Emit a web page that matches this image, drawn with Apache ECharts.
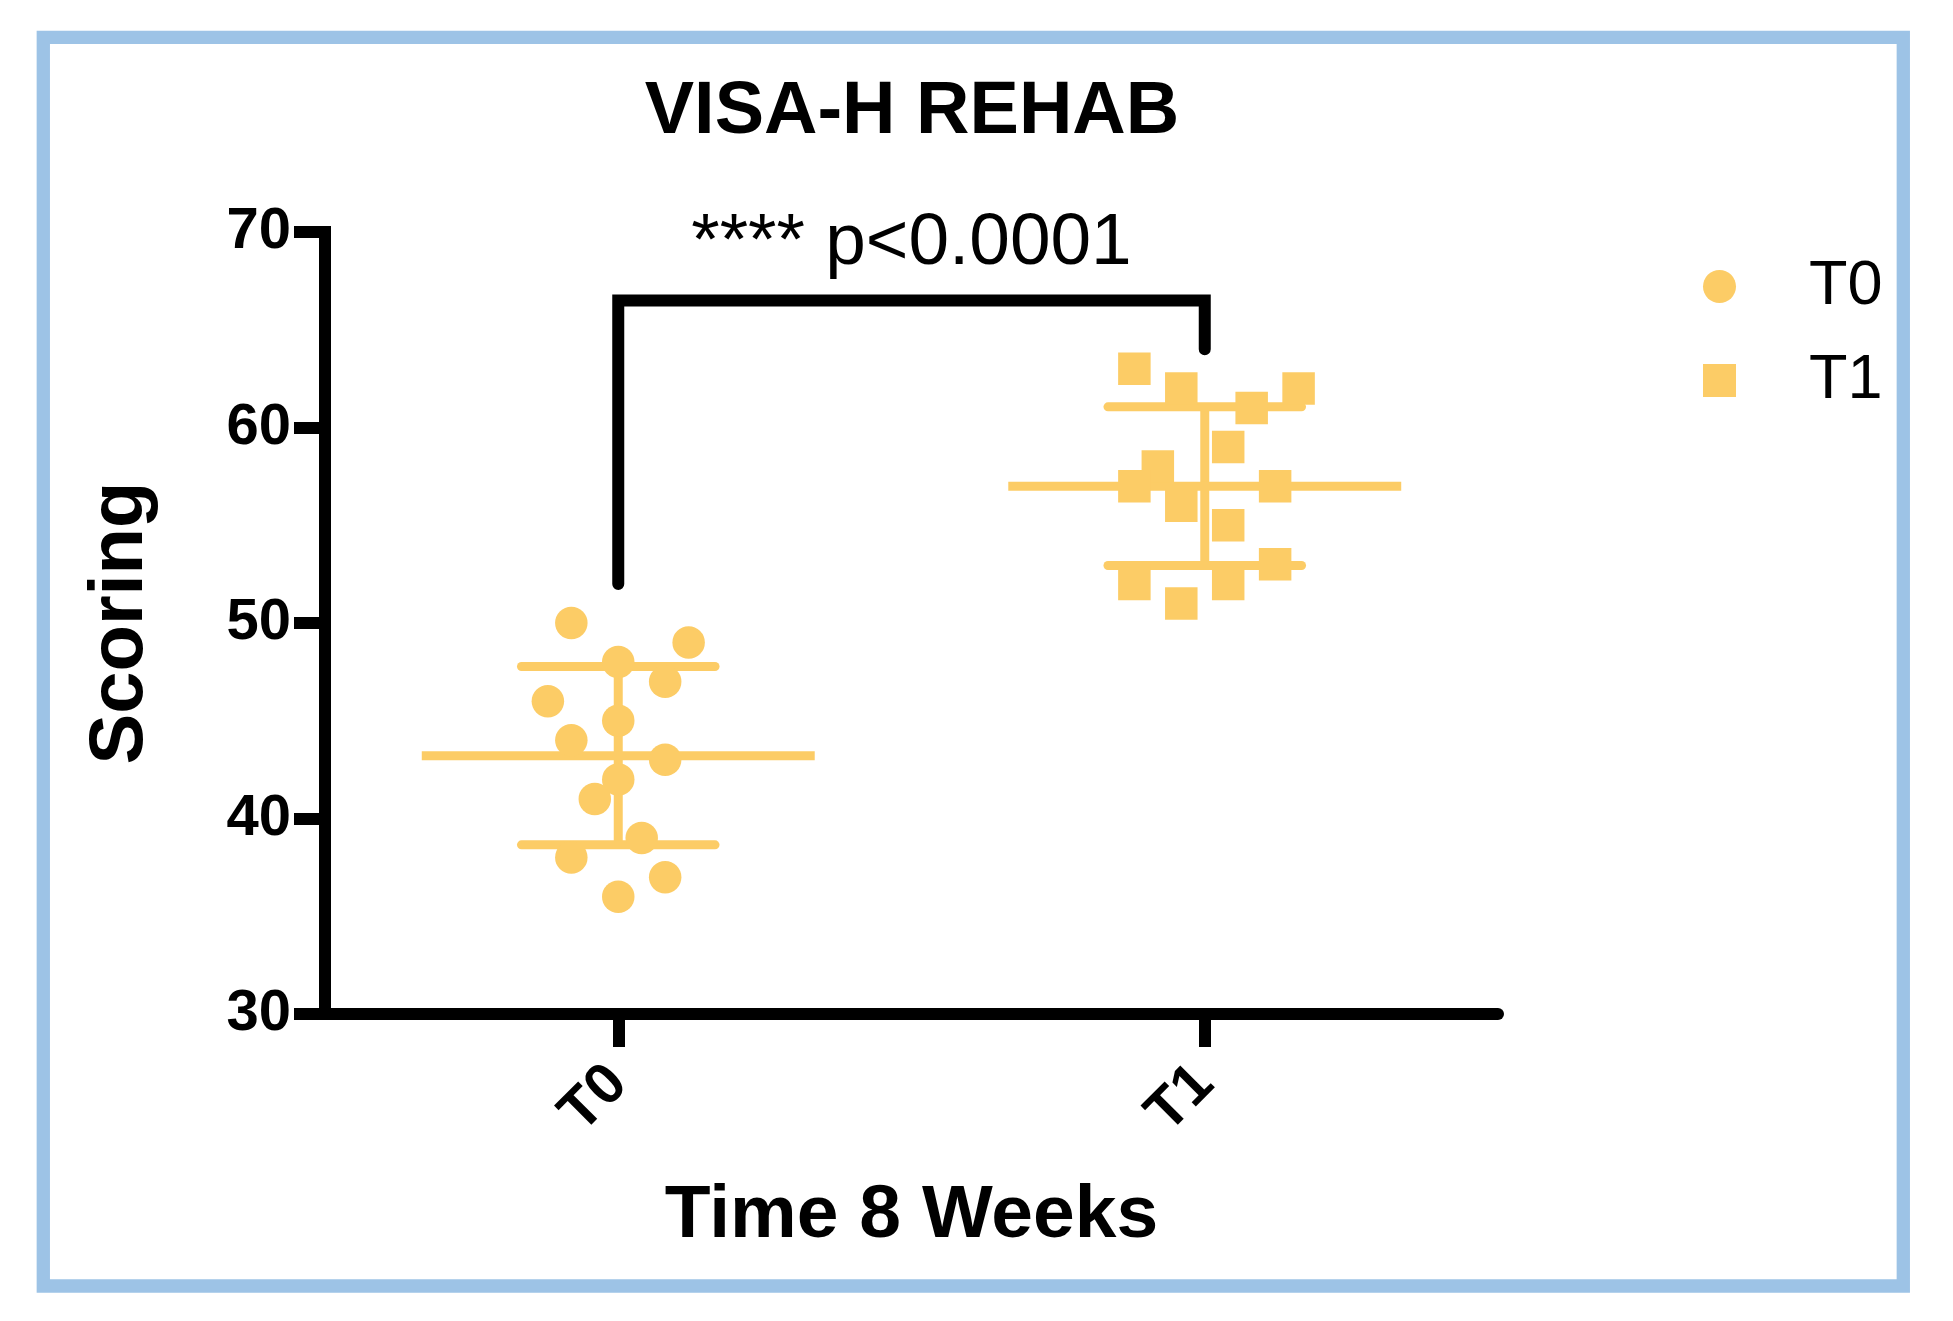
<!DOCTYPE html>
<html>
<head>
<meta charset="utf-8">
<title>VISA-H REHAB</title>
<script src="https://cdn.jsdelivr.net/npm/echarts@6/dist/echarts.min.js"></script>
<style>
  html, body { margin: 0; padding: 0; background: #ffffff; }
  #chart { width: 1953px; height: 1321px; }
</style>
</head>
<body>
<div id="chart"></div>
<script>
// ---------- data ----------
const categories = ['T0', 'T1'];
const t0Values = [50, 49, 48, 47, 46, 45, 44, 43, 42, 41, 39, 38, 37, 36];
const t0Jitter = [-2, 3, 0, 2, -3, 0, -2, 2, 0, -1, 1, -2, 2, 0];
const t1Values = [63, 62, 61, 62, 59, 58, 57, 57, 56, 55, 53, 52, 52, 51];
const t1Jitter = [-3, -1, 2, 4, 1, -2, -3, 3, -1, 1, 3, -3, 1, -1];
const yTicks = [30, 40, 50, 60, 70];
const bracketValues = [52, 66.5, 64];   // left leg end, top, right leg end
const pLabel = '**** p<0.0001';
const titleText = 'VISA-H REHAB';
const xName = 'Time 8 Weeks';
const yName = 'Scoring';

// ---------- helpers ----------
const FONT = '"Liberation Sans", Arial, Helvetica, sans-serif';
const COLOR = '#FCCC66';
const JIT = 0.04;

function mean(a) { return a.reduce((s, v) => s + v, 0) / a.length; }
function sd(a) {
  const m = mean(a);
  return Math.sqrt(a.reduce((s, v) => s + (v - m) * (v - m), 0) / (a.length - 1));
}
const stats = [
  [0, mean(t0Values), sd(t0Values)],
  [1, mean(t1Values), sd(t1Values)]
];

const chart = echarts.init(document.getElementById('chart'), null, { renderer: 'canvas' });

const option = {
  animation: false,
  backgroundColor: '#ffffff',
  title: {
    text: titleText,
    left: 912,
    top: 76,
    textAlign: 'center',
    padding: 0,
    textStyle: { fontFamily: FONT, fontWeight: 'bold', fontSize: 74, color: '#000' }
  },
  legend: {
    orient: 'vertical',
    left: 1703,
    top: 255,
    padding: 0,
    itemWidth: 33,
    itemHeight: 33,
    itemGap: 31,
    selectedMode: false,
    data: [
      { name: 'T0', icon: 'circle' },
      { name: 'T1', icon: 'rect' }
    ],
    formatter: '{p|{name}}',
    textStyle: {
      fontFamily: FONT, fontSize: 63, color: '#000',
      rich: { p: { fontFamily: FONT, fontSize: 63, color: '#000', padding: [0, 0, 0, 68] } }
    }
  },
  grid: { left: 325, right: 455, top: 232, bottom: 307, containLabel: false },
  xAxis: [
    {
      type: 'category',
      data: categories,
      boundaryGap: true,
      name: xName,
      nameLocation: 'middle',
      nameGap: 165,
      nameTextStyle: { fontFamily: FONT, fontWeight: 'bold', fontSize: 75, color: '#000' },
      axisLine: { show: true, onZero: false, lineStyle: { color: '#000', width: 12 } },
      axisTick: { show: true, alignWithLabel: true, length: 33, lineStyle: { color: '#000', width: 12 } },
      axisLabel: {
        rotate: 45, margin: 61, interval: 0,
        fontFamily: FONT, fontWeight: 'bold', fontSize: 58, color: '#000'
      },
      splitLine: { show: false }
    },
    { type: 'value', min: -0.5, max: 1.5, show: false, axisLine: { onZero: false } }
  ],
  yAxis: {
    type: 'value',
    min: yTicks[0],
    max: yTicks[yTicks.length - 1],
    interval: yTicks[1] - yTicks[0],
    name: yName,
    nameLocation: 'middle',
    nameRotate: 90,
    nameGap: 166,
    nameTextStyle: { fontFamily: FONT, fontWeight: 'bold', fontSize: 76, color: '#000' },
    axisLine: { show: true, onZero: false, lineStyle: { color: '#000', width: 12, cap: 'square' } },
    axisTick: { show: true, length: 31, lineStyle: { color: '#000', width: 12 } },
    axisLabel: { margin: 34, fontFamily: FONT, fontWeight: 'bold', fontSize: 58, color: '#000' },
    splitLine: { show: false }
  },
  series: [
    {
      name: 'SD',
      type: 'custom',
      xAxisIndex: 1,
      yAxisIndex: 0,
      silent: true,
      z: 2,
      data: stats,
      encode: { x: 0, y: [1, 2] },
      renderItem: function (params, api) {
        const c = api.value(0), m = api.value(1), s = api.value(2);
        const ml = api.coord([c - 0.335, m]), mr = api.coord([c + 0.335, m]);
        const tl = api.coord([c - 0.165, m + s]), tr = api.coord([c + 0.165, m + s]);
        const bl = api.coord([c - 0.165, m - s]), br = api.coord([c + 0.165, m - s]);
        const vt = api.coord([c, m + s]), vb = api.coord([c, m - s]);
        const base = { stroke: COLOR, lineWidth: 9, fill: 'none' };
        return {
          type: 'group',
          children: [
            { type: 'line', shape: { x1: vt[0], y1: vt[1], x2: vb[0], y2: vb[1] }, style: Object.assign({ lineCap: 'butt' }, base) },
            { type: 'line', shape: { x1: ml[0], y1: ml[1], x2: mr[0], y2: mr[1] }, style: Object.assign({ lineCap: 'butt' }, base) },
            { type: 'line', shape: { x1: tl[0], y1: tl[1], x2: tr[0], y2: tr[1] }, style: Object.assign({ lineCap: 'round' }, base) },
            { type: 'line', shape: { x1: bl[0], y1: bl[1], x2: br[0], y2: br[1] }, style: Object.assign({ lineCap: 'round' }, base) }
          ]
        };
      }
    },
    {
      name: 'T0',
      type: 'scatter',
      xAxisIndex: 1,
      yAxisIndex: 0,
      symbol: 'circle',
      symbolSize: 32.5,
      z: 3,
      itemStyle: { color: COLOR, opacity: 1 },
      emphasis: { disabled: true },
      data: t0Values.map((v, i) => [0 + t0Jitter[i] * JIT, v])
    },
    {
      name: 'T1',
      type: 'scatter',
      xAxisIndex: 1,
      yAxisIndex: 0,
      symbol: 'rect',
      symbolSize: 32.5,
      z: 3,
      itemStyle: { color: COLOR, opacity: 1 },
      emphasis: { disabled: true },
      data: t1Values.map((v, i) => [1 + t1Jitter[i] * JIT, v])
    },
    {
      name: 'significance',
      type: 'custom',
      xAxisIndex: 1,
      yAxisIndex: 0,
      silent: true,
      z: 5,
      data: [[0, 1, bracketValues[0], bracketValues[1], bracketValues[2]]],
      encode: { x: [0, 1], y: [2, 3, 4] },
      renderItem: function (params, api) {
        const x0 = api.value(0), x1 = api.value(1);
        const yl = api.value(2), yt = api.value(3), yr = api.value(4);
        const p1 = api.coord([x0, yl]), p2 = api.coord([x0, yt]);
        const p3 = api.coord([x1, yt]), p4 = api.coord([x1, yr]);
        const mid = api.coord([(x0 + x1) / 2, yt]);
        return {
          type: 'group',
          children: [
            {
              type: 'polyline',
              shape: { points: [p1, p2, p3, p4] },
              style: { stroke: '#000', lineWidth: 12, fill: 'none', lineCap: 'round', lineJoin: 'miter' }
            },
            {
              type: 'text',
              x: mid[0],
              y: mid[1] - 57,
              style: {
                text: pLabel, fontFamily: FONT, fontSize: 73, fill: '#000',
                align: 'center', verticalAlign: 'middle'
              }
            }
          ]
        };
      }
    }
  ],
  graphic: [
    {
      type: 'rect',
      silent: true,
      z: -10,
      shape: { x: 43.3, y: 37.3, width: 1860, height: 1248.7 },
      style: { fill: 'none', stroke: '#9DC3E6', lineWidth: 13.3 }
    }
  ]
};

chart.setOption(option);
</script>
</body>
</html>
